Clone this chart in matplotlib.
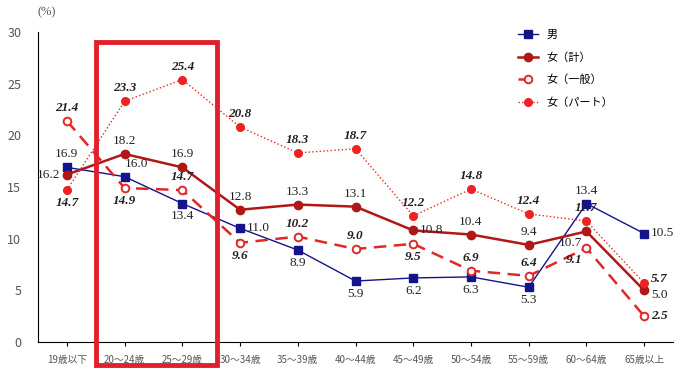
import matplotlib.pyplot as plt
from matplotlib.patches import Rectangle

plt.rcParams['font.family'] = ['Noto Sans CJK JP', 'DejaVu Sans']

categories = ["19歳以下", "20～24歳", "25～29歳", "30～34歳", "35～39歳", "40～44歳",
              "45～49歳", "50～54歳", "55～59歳", "60～64歳", "65歳以上"]
men = [16.9, 16.0, 13.4, 11.0, 8.9, 5.9, 6.2, 6.3, 5.3, 13.4, 10.5]
women_total = [16.2, 18.2, 16.9, 12.8, 13.3, 13.1, 10.8, 10.4, 9.4, 10.7, 5.0]
women_general = [21.4, 14.9, 14.7, 9.6, 10.2, 9.0, 9.5, 6.9, 6.4, 9.1, 2.5]
women_part = [14.7, 23.3, 25.4, 20.8, 18.3, 18.7, 12.2, 14.8, 12.4, 11.7, 5.7]

# where each value label sits relative to its point
men_pos = ["a", "ar", "b", "r", "b", "b", "b", "b", "b", "a", "r"]
total_pos = ["l", "a", "a", "a", "a", "a", "r", "a", "a", "bl", "rd"]
general_pos = ["a", "b", "a", "b", "a", "a", "b", "a", "a", "bl", "r"]
part_pos = ["b", "a", "a", "a", "a", "a", "a", "a", "a", "a", "ru"]

OFFSETS = {"a": (0, 5, "center", "bottom"), "b": (0, -5, "center", "top"),
           "l": (-5, 0, "right", "center"), "r": (5, 0, "left", "center"),
           "ar": (0, 5, "left", "bottom"), "bl": (-3, -4, "right", "top"),
           "ru": (5, 3, "left", "center"), "rd": (5, -3, "left", "center")}

fig = plt.figure(figsize=(7, 3.74), dpi=100)
ax = fig.add_axes([38 / 700, 32 / 374, 635 / 700, 310 / 374])
x = range(len(categories))

series = [
    (men, "男", dict(color="#14148a", lw=1.0, marker="s", ms=5.5, ls="-"), men_pos, False),
    (women_total, "女（計）", dict(color="#b01818", lw=1.8, marker="o", ms=6, ls="-"), total_pos, False),
    (women_general, "女（一般）", dict(color="#e02828", lw=1.8, marker="o", ms=5.5, ls=(0, (5, 3)),
                                    mfc="white", mew=1.4), general_pos, True),
    (women_part, "女（パート）", dict(color="#ee2222", lw=1.0, marker="o", ms=5.5, ls=":"), part_pos, True),
]

for values, name, style, positions, italic in series:
    ax.plot(x, values, label=name, **style)
    for i, (v, p) in enumerate(zip(values, positions)):
        dx, dy, ha, va = OFFSETS[p]
        ax.annotate(f"{v:.1f}", (i, v), xytext=(dx, dy), textcoords="offset points",
                    ha=ha, va=va, fontsize=9.5, family="Liberation Serif",
                    style="italic" if italic else "normal",
                    weight="bold" if italic else "normal", color="#222222")

ax.set_xlim(-0.5, len(categories) - 0.5)
ax.set_ylim(0, 30)
ax.set_yticks(range(0, 31, 5))
ax.set_xticks(list(x))
ax.set_xticklabels(categories, fontsize=7, color="#555555")
ax.tick_params(axis="y", length=0, labelsize=9, colors="#555555", pad=12)
ax.tick_params(axis="x", length=3, direction="out", pad=6)
for side in ("top", "right"):
    ax.spines[side].set_visible(False)
ax.text(0.0, 1.055, "(%)", transform=ax.transAxes, fontsize=9, color="#555555",
        family="Liberation Serif")

ax.add_patch(Rectangle((0.5, -2.2), 2.1, 31.2, fill=False, edgecolor="#e0202a",
                       lw=3.5, clip_on=False, zorder=5))

ax.legend(loc="upper left", bbox_to_anchor=(0.74, 1.04), frameon=False, fontsize=8,
          handlelength=1.8, labelspacing=1.1)

fig.savefig("out.png", dpi=100)
